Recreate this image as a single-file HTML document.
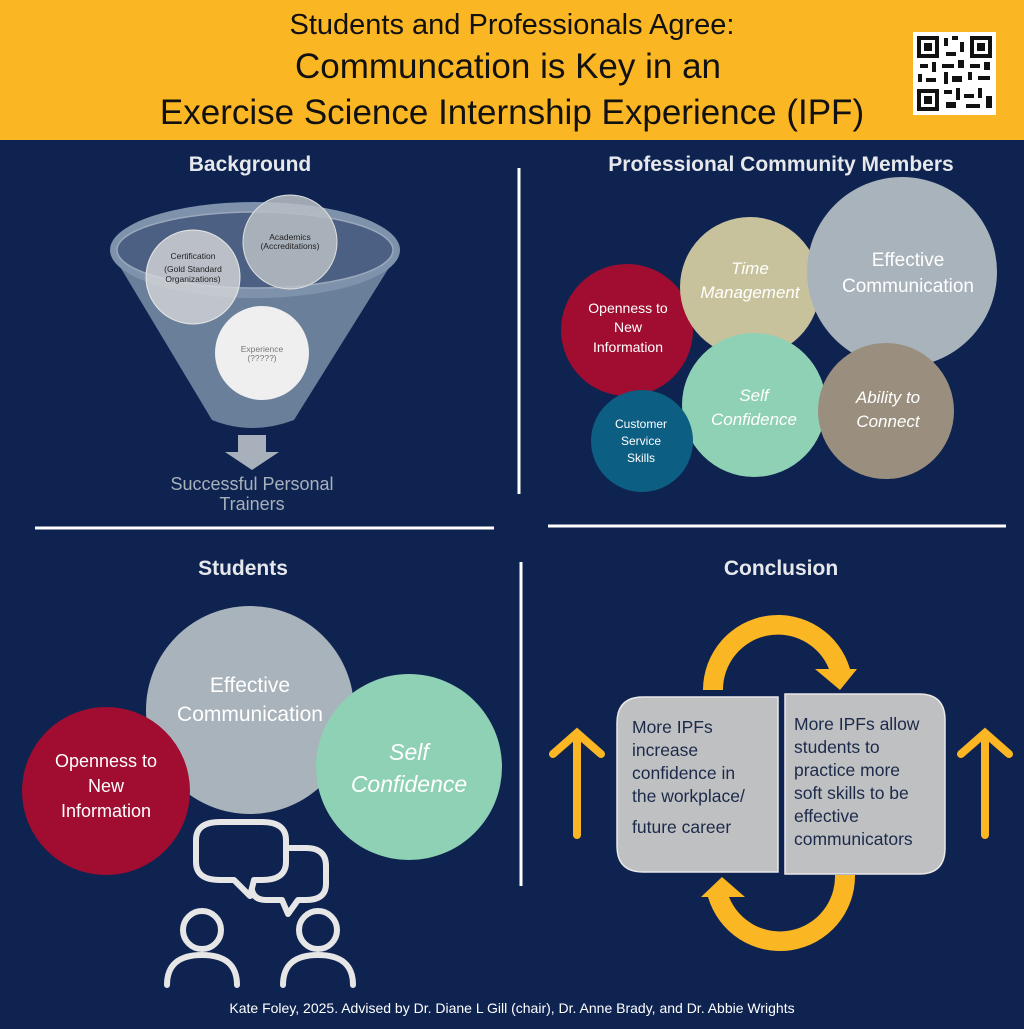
<!DOCTYPE html>
<html><head><meta charset="utf-8"><style>
body{margin:0;width:1024px;height:1024px;background:#0e2350;font-family:"Liberation Sans",sans-serif;overflow:hidden}
</style></head><body>
<svg width="1024" height="1024" viewBox="0 0 1024 1024" xmlns="http://www.w3.org/2000/svg" font-family="Liberation Sans, sans-serif">
<rect width="1024" height="1024" fill="#0e2350"/>
<rect width="1024" height="140" fill="#fbb623"/>
<text x="512" y="34" font-size="29" text-anchor="middle" fill="#111">Students and Professionals Agree:</text>
<text x="508" y="78" font-size="35" text-anchor="middle" fill="#111">Communcation is Key in an</text>
<text x="512" y="124" font-size="35" text-anchor="middle" fill="#111">Exercise Science Internship Experience (IPF)</text>
<rect x="913" y="32" width="83" height="83" fill="#fff"/>
<g fill="#111">
<rect x="917" y="36" width="22" height="22"/><rect x="921" y="40" width="14" height="14" fill="#fff"/><rect x="924" y="43" width="8" height="8"/>
<rect x="970" y="36" width="22" height="22"/><rect x="974" y="40" width="14" height="14" fill="#fff"/><rect x="977" y="43" width="8" height="8"/>
<rect x="917" y="89" width="22" height="22"/><rect x="921" y="93" width="14" height="14" fill="#fff"/><rect x="924" y="96" width="8" height="8"/>
<rect x="944" y="38" width="4" height="8"/><rect x="952" y="36" width="6" height="4"/><rect x="960" y="42" width="4" height="10"/><rect x="946" y="52" width="10" height="4"/>
<rect x="920" y="64" width="8" height="4"/><rect x="932" y="62" width="4" height="10"/><rect x="942" y="64" width="12" height="4"/><rect x="958" y="60" width="6" height="8"/><rect x="970" y="64" width="10" height="4"/><rect x="984" y="62" width="6" height="8"/>
<rect x="918" y="74" width="4" height="8"/><rect x="926" y="78" width="10" height="4"/><rect x="944" y="72" width="4" height="12"/><rect x="952" y="76" width="10" height="6"/><rect x="968" y="72" width="4" height="8"/><rect x="978" y="76" width="12" height="4"/>
<rect x="944" y="90" width="8" height="4"/><rect x="956" y="88" width="4" height="12"/><rect x="964" y="94" width="10" height="4"/><rect x="978" y="88" width="4" height="10"/><rect x="986" y="96" width="6" height="12"/><rect x="946" y="102" width="10" height="6"/><rect x="966" y="104" width="14" height="4"/>
</g>
<g fill="#e6e8ec" font-weight="bold" font-size="21" text-anchor="middle">
<text x="250" y="171">Background</text>
<text x="781" y="171">Professional Community Members</text>
<text x="243" y="575">Students</text>
<text x="781" y="575">Conclusion</text>
</g>
<g stroke="#fff" stroke-width="3">
<line x1="519" y1="168" x2="519" y2="494"/>
<line x1="35" y1="528" x2="494" y2="528"/>
<line x1="548" y1="526" x2="1006" y2="526"/>
<line x1="521" y1="562" x2="521" y2="886"/>
</g>
<!-- funnel -->
<path d="M110 250 L212 420 Q252 436 294 420 L400 250 Z" fill="#6a7f9a"/>
<ellipse cx="255" cy="250" rx="145" ry="48" fill="#7f92ab"/>
<ellipse cx="255" cy="250" rx="138" ry="38" fill="#4b6082" stroke="#9aa8bc" stroke-width="1.5"/>
<circle cx="193" cy="277" r="47" fill="#d6d7d9" fill-opacity="0.8" stroke="#e8e8e8"/>
<circle cx="290" cy="242" r="47" fill="#b9bec4" fill-opacity="0.85" stroke="#e0e0e0"/>
<circle cx="262" cy="353" r="47" fill="#efefef"/>
<g font-size="8.5" fill="#222" text-anchor="middle">
<text x="193" y="259">Certification</text><text x="193" y="272">(Gold Standard</text><text x="193" y="282">Organizations)</text>
<text x="290" y="240">Academics</text><text x="290" y="249">(Accreditations)</text>
<text x="262" y="352" fill="#777">Experience</text><text x="262" y="361" fill="#777">(?????)</text>
</g>
<path d="M238 435 H266 V452 H279 L252 470 L225 452 H238 Z" fill="#a7b0bb"/>
<g font-size="18" fill="#a7b0bb" text-anchor="middle"><text x="252" y="490">Successful Personal</text><text x="252" y="510">Trainers</text></g>
<!-- professional bubbles -->
<circle cx="627" cy="330" r="66" fill="#a00d30"/>
<circle cx="750" cy="287" r="70" fill="#c8c29c"/>
<circle cx="902" cy="272" r="95" fill="#a9b3bb"/>
<circle cx="754" cy="405" r="72" fill="#8fd1b4"/>
<circle cx="886" cy="411" r="68" fill="#9a8f7e"/>
<circle cx="642" cy="441" r="51" fill="#0c5e83"/>
<g fill="#fff" text-anchor="middle">
<g font-size="14"><text x="628" y="313">Openness to</text><text x="628" y="332">New</text><text x="628" y="352">Information</text></g>
<g font-size="17" font-style="italic"><text x="750" y="274">Time</text><text x="750" y="298">Management</text></g>
<g font-size="19"><text x="908" y="266">Effective</text><text x="908" y="292">Communication</text></g>
<g font-size="17" font-style="italic"><text x="754" y="401">Self</text><text x="754" y="425">Confidence</text></g>
<g font-size="17" font-style="italic"><text x="888" y="403">Ability to</text><text x="888" y="427">Connect</text></g>
<g font-size="12"><text x="641" y="428">Customer</text><text x="641" y="445">Service</text><text x="641" y="462">Skills</text></g>
</g>
<!-- students -->
<circle cx="250" cy="710" r="104" fill="#a9b3bb"/>
<circle cx="106" cy="791" r="84" fill="#a00d30"/>
<circle cx="409" cy="767" r="93" fill="#8fd1b4"/>
<g fill="#fff" text-anchor="middle">
<g font-size="21"><text x="250" y="692">Effective</text><text x="250" y="721">Communication</text></g>
<g font-size="18"><text x="106" y="767">Openness to</text><text x="106" y="792">New</text><text x="106" y="817">Information</text></g>
<g font-size="23" font-style="italic"><text x="409" y="760">Self</text><text x="409" y="792">Confidence</text></g>
</g>
<g fill="none" stroke="#e6e6e6" stroke-width="6" stroke-linejoin="round" stroke-linecap="round">
<path d="M196 840 Q196 822 220 822 H262 Q286 822 286 840 V862 Q286 880 262 880 H254 L250 896 L234 880 H220 Q196 880 196 862 Z"/>
<path d="M289 848 H306 Q326 848 326 866 V884 Q326 900 306 900 H298 L288 914 L282 900 H266 Q254 900 252 890"/>
<circle cx="202" cy="930" r="19"/>
<path d="M167 985 Q167 955 202 955 Q237 955 237 985"/>
<circle cx="318" cy="930" r="19"/>
<path d="M283 985 Q283 955 318 955 Q353 955 353 985"/>
</g>
<!-- conclusion -->
<g fill="#fbb623">
<path d="M703 690 A75 75 0 0 1 850 669 L857 669 L840 690 L815 669 L829 669 A55 55 0 0 0 723 690 Z"/>
<path d="M855 875 A75 75 0 0 1 708 897 L701 897 L722 877 L745 897 L729 897 A55 55 0 0 0 835 875 Z"/>
</g>
<g stroke="#fbb623" stroke-width="8" stroke-linecap="round" fill="none">
<path d="M577 835 V733 M553 754 L577 733 L601 754"/>
<path d="M985 835 V733 M961 754 L985 733 L1009 754"/>
</g>
<path d="M643 697 H778 V872 H643 Q617 872 617 846 V723 Q617 697 643 697 Z" fill="#bfc0c2" stroke="#e8e8e8" stroke-width="1.5"/>
<path d="M785 694 H919 Q945 694 945 720 V848 Q945 874 919 874 H785 Z" fill="#bfc0c2" stroke="#e8e8e8" stroke-width="1.5"/>
<g font-size="17.5" fill="#1c2a4a">
<text x="632" y="733">More IPFs</text><text x="632" y="756">increase</text><text x="632" y="779">confidence in</text><text x="632" y="802">the workplace/</text><text x="632" y="833">future career</text>
<text x="794" y="730">More IPFs allow</text><text x="794" y="753">students to</text><text x="794" y="776">practice more</text><text x="794" y="799">soft skills to be</text><text x="794" y="822">effective</text><text x="794" y="845">communicators</text>
</g>
<text x="512" y="1013" font-size="14" fill="#fff" text-anchor="middle">Kate Foley, 2025.  Advised by Dr. Diane L Gill (chair), Dr. Anne Brady, and Dr. Abbie Wrights</text>
</svg>
</body></html>
